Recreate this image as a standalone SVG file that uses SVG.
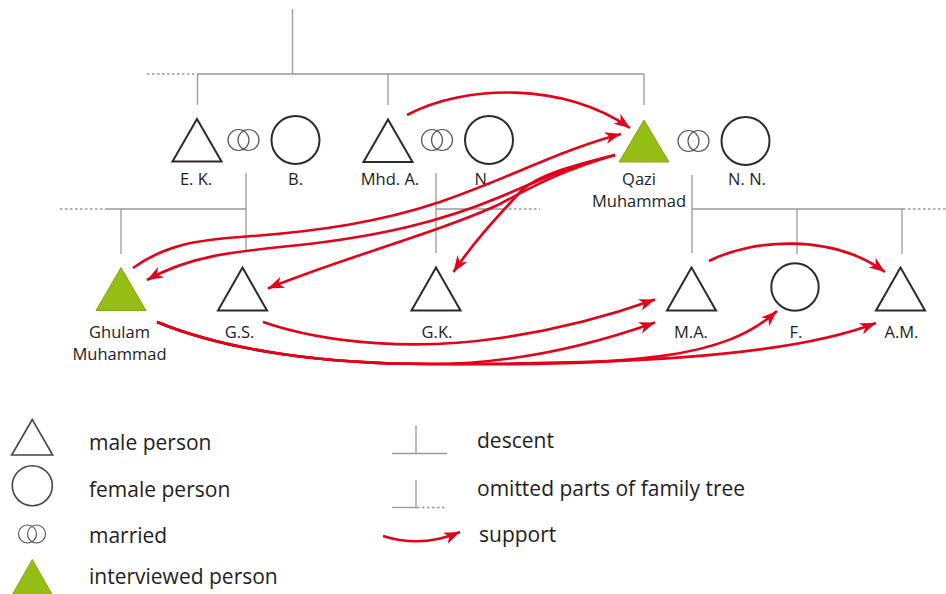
<svg xmlns="http://www.w3.org/2000/svg" width="946" height="594" viewBox="0 0 946 594">
<defs>
<style>
.ln{stroke:#9a9a9a;stroke-width:1.3;fill:none}
.dash{stroke:#9a9a9a;stroke-width:1.3;fill:none;stroke-dasharray:2.5 2.5}
.male{fill:#fff;stroke:#2b2b2b;stroke-width:2;stroke-linejoin:miter}
.iv{fill:#95bd14;stroke:#86a812;stroke-width:1}
.fem{fill:#fff;stroke:#2b2b2b;stroke-width:2}
.ring{fill:none;stroke:#555;stroke-width:1.2}
.sup{fill:none;stroke:#e2001a;stroke-width:2.6;marker-end:url(#ah)}
.lbl{font-family:"Open Sans","Noto Sans","Liberation Sans",sans-serif;font-size:16.5px;fill:#1e1e1e;text-anchor:middle}
.leg{font-family:"Open Sans","Noto Sans","Liberation Sans",sans-serif;font-size:21px;fill:#1e1e1e}
</style>
<marker id="ah" markerUnits="userSpaceOnUse" markerWidth="18" markerHeight="14" refX="16" refY="7" orient="auto">
<path d="M0,1 L16,7 L0,13 L4.5,7 Z" fill="#e2001a"/>
</marker>
</defs>

<g id="family-lines">
<line class="ln" x1="292.5" y1="9" x2="292.5" y2="74"/>
<line class="dash" x1="147" y1="74" x2="197" y2="74"/>
<line class="ln" x1="197" y1="74" x2="644" y2="74"/>
<line class="ln" x1="197.5" y1="74" x2="197.5" y2="105"/>
<line class="ln" x1="388" y1="74" x2="388" y2="105"/>
<line class="ln" x1="644" y1="74" x2="644" y2="105"/>

<line class="dash" x1="60" y1="209" x2="107" y2="209"/>
<line class="ln" x1="107" y1="209" x2="246" y2="209"/>
<line class="ln" x1="246" y1="173" x2="246" y2="252"/>
<line class="ln" x1="121" y1="209" x2="121" y2="254"/>

<line class="ln" x1="436" y1="173" x2="436" y2="253"/>
<line class="ln" x1="436" y1="209" x2="504" y2="209"/>
<line class="dash" x1="504" y1="209" x2="540" y2="209"/>

<line class="ln" x1="692" y1="175" x2="692" y2="253"/>
<line class="ln" x1="692" y1="209" x2="903" y2="209"/>
<line class="dash" x1="903" y1="209" x2="946" y2="209"/>
<line class="ln" x1="797" y1="209" x2="797" y2="254"/>
<line class="ln" x1="902" y1="209" x2="902" y2="254"/>
</g>

<g id="EK">
<polygon class="male" points="197,119 172.5,161.5 221.5,161.5"/>
<text class="lbl" x="196" y="185">E. K.</text>
</g>
<g id="marriage-EK-B">
<circle class="ring" cx="238.5" cy="140" r="10.5"/>
<circle class="ring" cx="248.5" cy="140" r="10.5"/>
</g>
<g id="B">
<circle class="fem" cx="295.5" cy="140" r="24"/>
<text class="lbl" x="295.5" y="185">B.</text>
</g>
<g id="MhdA">
<polygon class="male" points="388,119.5 363.5,162 412.5,162"/>
<text class="lbl" x="390" y="185">Mhd. A.</text>
</g>
<g id="marriage-MhdA-N">
<circle class="ring" cx="432" cy="140" r="10.5"/>
<circle class="ring" cx="442" cy="140" r="10.5"/>
</g>
<g id="N">
<circle class="fem" cx="489" cy="140" r="24"/>
<text class="lbl" x="483" y="185">N.</text>
</g>
<g id="Qazi">
<polygon class="iv" points="644,120 619,162 669,162"/>
<text class="lbl" x="639" y="185">Qazi</text>
<text class="lbl" x="639" y="206.5">Muhammad</text>
</g>
<g id="marriage-Qazi-NN">
<circle class="ring" cx="688.5" cy="141" r="10.5"/>
<circle class="ring" cx="698.5" cy="141" r="10.5"/>
</g>
<g id="NN">
<circle class="fem" cx="745.5" cy="141" r="24"/>
<text class="lbl" x="747" y="185">N. N.</text>
</g>

<g id="Ghulam">
<polygon class="iv" points="121,267.5 96,310.5 146,310.5"/>
<text class="lbl" x="119.5" y="338">Ghulam</text>
<text class="lbl" x="119.5" y="360">Muhammad</text>
</g>
<g id="GS">
<polygon class="male" points="242.5,267.5 218,310.5 267,310.5"/>
<text class="lbl" x="239.5" y="338">G.S.</text>
</g>
<g id="GK">
<polygon class="male" points="436,267.5 411.5,310.5 460.5,310.5"/>
<text class="lbl" x="437" y="338">G.K.</text>
</g>
<g id="MA">
<polygon class="male" points="691.5,267.5 667,310.5 716,310.5"/>
<text class="lbl" x="691" y="338">M.A.</text>
</g>
<g id="F">
<circle class="fem" cx="795" cy="287" r="23.7"/>
<text class="lbl" x="796" y="338">F.</text>
</g>
<g id="AM">
<polygon class="male" points="900.5,267.5 876,310.5 925,310.5"/>
<text class="lbl" x="901.5" y="338">A.M.</text>
</g>

<g id="connectors">
<path class="sup" d="M407,115 C465,84 565,82 630,128"/>
<path class="sup" d="M133,268 C165,245 195,240 247,236.5 C320,231 380,222 440,202 C510,178 560,150 621,134"/>
<path class="sup" d="M615,155 C570,166 540,180 500,197 C440,222 380,236 300,245 C230,252 190,256 147,280"/>
<path class="sup" d="M615,155 C570,168 540,182 500,204 C440,232 330,262 268,288.5"/>
<path class="sup" d="M615,155 C575,165 540,174 522,190 C500,214 475,240 453.5,272"/>
<path class="sup" d="M263,322 C330,345 420,350 500,338 C570,328 620,312 655,299.5"/>
<path class="sup" d="M157,322 C230,352 330,364 430,364 C520,364 600,342 655,322.5"/>
<path class="sup" d="M157,322 C230,352 330,364 430,364 C640,366 725,358 777,311"/>
<path class="sup" d="M157,322 C230,352 330,364 430,364 C600,364 780,360 876,323"/>
<path class="sup" d="M709,261 C750,240 830,232 885,272"/>
</g>

<g id="legend">
<polygon points="32.3,419.5 11.7,455 52.7,455" fill="#fff" stroke="#444" stroke-width="1.6"/>
<text class="leg" x="89" y="450">male person</text>
<circle cx="32.3" cy="485.7" r="20" fill="#fff" stroke="#444" stroke-width="1.6"/>
<text class="leg" x="89" y="496.5">female person</text>
<circle class="ring" cx="27.5" cy="534" r="9"/>
<circle class="ring" cx="36.5" cy="534" r="9"/>
<text class="leg" x="89" y="543">married</text>
<polygon class="iv" points="32.3,559.5 11.5,596 53,596"/>
<text class="leg" x="89" y="584">interviewed person</text>

<line class="ln" x1="392" y1="453.5" x2="447" y2="453.5"/>
<line class="ln" x1="416" y1="426" x2="416" y2="453.5"/>
<text class="leg" x="477" y="448">descent</text>
<line class="ln" x1="392" y1="507.5" x2="417" y2="507.5"/>
<line class="dash" x1="417" y1="507.5" x2="446" y2="507.5"/>
<line class="ln" x1="416" y1="480" x2="416" y2="507.5"/>
<text class="leg" x="477" y="496">omitted parts of family tree</text>
<path class="sup" d="M383,536 C405,543 432,544 460,532"/>
<text class="leg" x="479" y="542">support</text>
</g>
</svg>
